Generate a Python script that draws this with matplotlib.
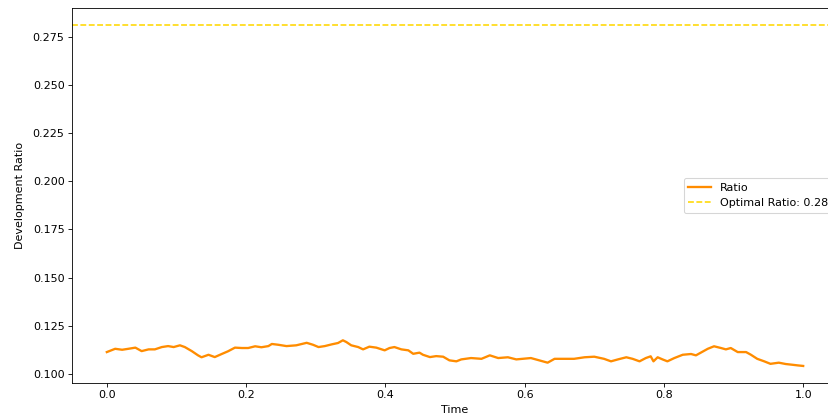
import matplotlib
matplotlib.use("Agg")
import matplotlib.pyplot as plt

# Development ratio over normalised time
time = [0.000, 0.012, 0.022, 0.031, 0.041, 0.050, 0.060, 0.069, 0.079, 0.088,
        0.096, 0.105, 0.112, 0.122, 0.131, 0.136, 0.146, 0.155, 0.165, 0.174,
        0.184, 0.194, 0.203, 0.213, 0.222, 0.232, 0.237, 0.246, 0.258, 0.272,
        0.287, 0.296, 0.304, 0.313, 0.323, 0.332, 0.339, 0.344, 0.351, 0.361,
        0.368, 0.377, 0.387, 0.399, 0.406, 0.413, 0.423, 0.433, 0.440, 0.449,
        0.454, 0.464, 0.473, 0.483, 0.492, 0.502, 0.509, 0.523, 0.538, 0.550,
        0.562, 0.576, 0.588, 0.597, 0.609, 0.621, 0.633, 0.643, 0.657, 0.671,
        0.686, 0.700, 0.714, 0.724, 0.734, 0.746, 0.755, 0.765, 0.774, 0.781,
        0.785, 0.791, 0.798, 0.805, 0.815, 0.827, 0.839, 0.846, 0.853, 0.863,
        0.872, 0.882, 0.889, 0.896, 0.906, 0.918, 0.925, 0.934, 0.944, 0.953,
        0.965, 0.975, 0.985, 0.992, 1.000]

ratio = [0.1114, 0.1131, 0.1126, 0.1131, 0.1137, 0.1119, 0.1128, 0.1128, 0.1140, 0.1145,
         0.1140, 0.1149, 0.1140, 0.1119, 0.1097, 0.1087, 0.1100, 0.1088, 0.1104, 0.1118,
         0.1137, 0.1135, 0.1135, 0.1144, 0.1139, 0.1145, 0.1156, 0.1152, 0.1145, 0.1149,
         0.1162, 0.1152, 0.1140, 0.1145, 0.1154, 0.1161, 0.1175, 0.1166, 0.1149, 0.1140,
         0.1128, 0.1142, 0.1137, 0.1123, 0.1135, 0.1140, 0.1128, 0.1123, 0.1105, 0.1111,
         0.1100, 0.1088, 0.1093, 0.1090, 0.1071, 0.1066, 0.1076, 0.1083, 0.1079, 0.1097,
         0.1083, 0.1087, 0.1076, 0.1079, 0.1083, 0.1071, 0.1059, 0.1079, 0.1079, 0.1079,
         0.1087, 0.1090, 0.1079, 0.1066, 0.1076, 0.1087, 0.1079, 0.1066, 0.1083, 0.1092,
         0.1066, 0.1087, 0.1076, 0.1066, 0.1083, 0.1100, 0.1104, 0.1097, 0.1111, 0.1131,
         0.1144, 0.1135, 0.1128, 0.1135, 0.1114, 0.1114, 0.1100, 0.1079, 0.1066, 0.1053,
         0.1059, 0.1052, 0.1048, 0.1045, 0.1042]

optimal_ratio = 0.281

plt.rcParams["font.size"] = 10.6

fig = plt.figure(figsize=(828 / 76, 419 / 76), dpi=76)
ax = fig.add_axes([72 / 828, 1 - 383 / 419, 766 / 828, 375 / 419])

ax.plot(time, ratio, color="darkorange", linewidth=2.2, label="Ratio")
ax.axhline(optimal_ratio, color="gold", linestyle="--", linewidth=1.5,
           label=f"Optimal Ratio: {optimal_ratio:.2f}")

ax.set_xlabel("Time")
ax.set_ylabel("Development Ratio", labelpad=7.5)
ax.legend(loc="center right")

fig.savefig("out.png", dpi=76)
